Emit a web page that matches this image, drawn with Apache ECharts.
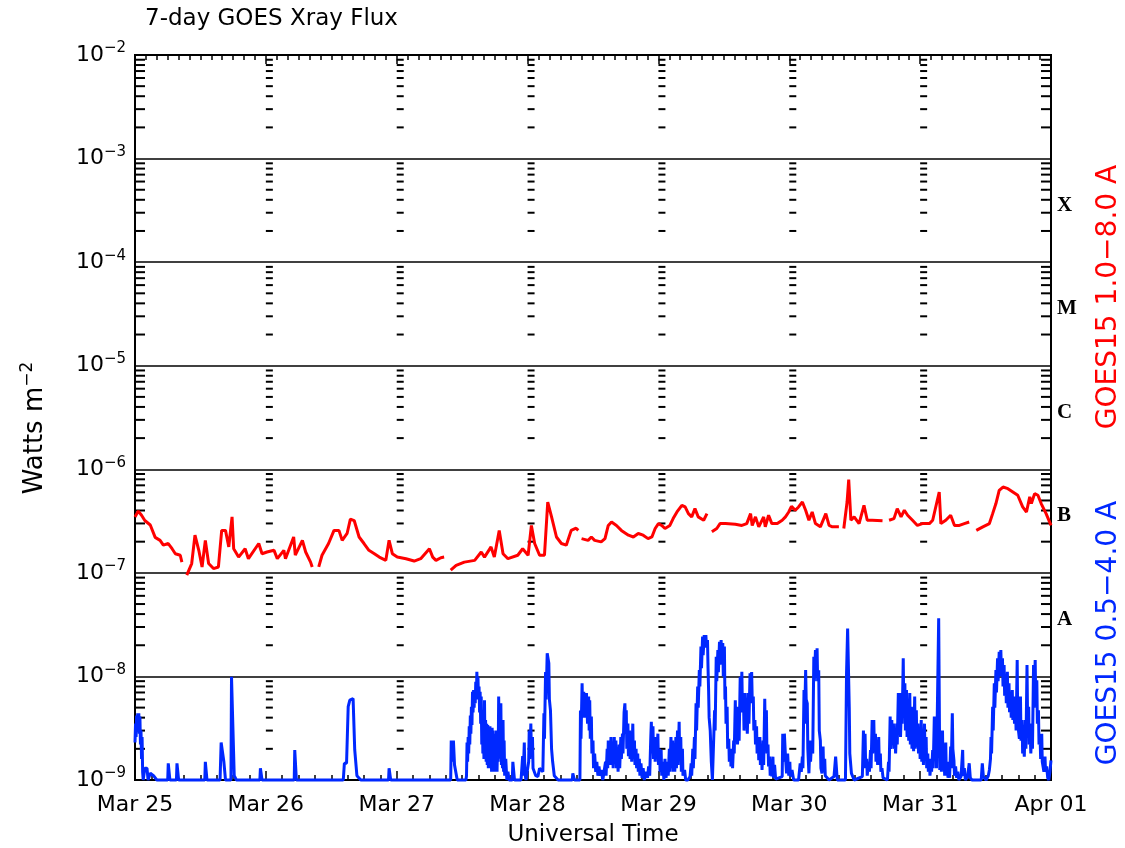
<!DOCTYPE html>
<html>
<head>
<meta charset="UTF-8">
<title>7-day GOES Xray Flux</title>
<script src="https://cdn.jsdelivr.net/npm/echarts@6/dist/echarts.min.js"></script>
<style>
  html, body { margin: 0; background: #fff; }
  #chart { width: 1125px; height: 848px; }
</style>
</head>
<body>
<div id="chart"></div>
<script>
// x = hours since Mar 25 00:00 UT, y = flux in W m^-2, null = data gap
const dayLabels = ['Mar 25', 'Mar 26', 'Mar 27', 'Mar 28', 'Mar 29', 'Mar 30', 'Mar 31', 'Apr 01'];

// GOES15 1.0-8.0 A
const longFlux = [
  [0, 3.47e-7], [0.6, 3.95e-7], [1.2, 3.6e-7], [1.8, 3.2e-7], [2.8, 2.9e-7], [3.7, 2.2e-7], [4.6, 2.06e-7], [5.2, 1.85e-7],
  [6.1, 1.92e-7], [6.8, 1.71e-7], [7.4, 1.53e-7], [8.3, 1.48e-7], [8.6, 1.27e-7], [9.0, null],
  [9.5, 9.5e-8], [10.4, 1.23e-7], [11.0, 2.31e-7], [11.7, 1.65e-7], [12.3, 1.14e-7], [12.9, 2.06e-7], [13.5, 1.23e-7],
  [14.4, 1.1e-7], [15.3, 1.14e-7], [15.9, 2.57e-7], [16.6, 2.57e-7], [17.2, 1.78e-7], [17.8, 3.47e-7], [18.1, 1.71e-7],
  [19.0, 1.42e-7], [20.2, 1.71e-7], [20.8, 1.37e-7], [22.7, 1.92e-7], [23.3, 1.53e-7], [24.2, 1.59e-7], [25.5, 1.65e-7],
  [26.1, 1.37e-7], [27.3, 1.65e-7], [27.6, 1.37e-7], [29.1, 2.22e-7], [29.4, 1.48e-7], [30.7, 2.06e-7], [31.3, 1.59e-7],
  [32.2, 1.27e-7], [32.5, 1.14e-7], [33.1, null],
  [33.7, 1.14e-7], [34.3, 1.48e-7], [35.5, 1.92e-7], [36.5, 2.57e-7], [37.4, 2.57e-7], [38.0, 2.06e-7], [38.9, 2.4e-7],
  [39.5, 3.3e-7], [40.2, 3.2e-7], [41.1, 2.22e-7], [42.0, 1.92e-7], [42.9, 1.65e-7], [43.9, 1.53e-7], [44.8, 1.42e-7],
  [46.0, 1.32e-7], [46.6, 2.06e-7], [47.2, 1.53e-7], [48.1, 1.42e-7], [49.7, 1.37e-7], [51.2, 1.3e-7], [52.4, 1.37e-7],
  [54.0, 1.71e-7], [54.6, 1.42e-7], [55.2, 1.32e-7], [56.1, 1.4e-7], [56.7, 1.42e-7], [57.3, null],
  [57.9, 1.06e-7], [58.9, 1.18e-7], [60.4, 1.27e-7], [62.3, 1.32e-7], [63.5, 1.59e-7], [64.1, 1.42e-7], [65.3, 1.78e-7],
  [65.9, 1.42e-7], [66.8, 2.57e-7], [67.5, 1.53e-7], [68.4, 1.37e-7], [70.2, 1.48e-7], [71.1, 1.71e-7], [72.1, 1.48e-7],
  [72.7, 2.87e-7], [73.3, 1.92e-7], [74.2, 1.48e-7], [75.1, 1.48e-7], [75.7, 4.83e-7], [76.4, 3.47e-7], [77.3, 2.22e-7],
  [78.2, 1.92e-7], [79.1, 1.85e-7], [80.0, 2.57e-7], [80.9, 2.7e-7], [81.3, 2.57e-7], [81.6, null],
  [81.9, 2.14e-7], [83.1, 2.06e-7], [83.7, 2.22e-7], [84.3, 2.06e-7], [85.5, 1.99e-7], [86.2, 2.14e-7], [86.8, 2.87e-7],
  [87.4, 3.1e-7], [88.3, 2.87e-7], [89.2, 2.57e-7], [90.5, 2.31e-7], [91.4, 2.22e-7], [92.3, 2.4e-7], [93.2, 2.31e-7],
  [94.1, 2.14e-7], [94.8, 2.22e-7], [95.4, 2.68e-7], [96.0, 2.99e-7], [96.6, 2.87e-7], [97.2, 2.68e-7], [98.1, 2.87e-7],
  [98.7, 3.34e-7], [99.4, 3.87e-7], [100.3, 4.49e-7], [100.9, 4.33e-7], [101.5, 3.73e-7], [102.1, 3.47e-7], [102.7, 4.17e-7],
  [103.3, 3.47e-7], [104.3, 3.22e-7], [104.9, 3.73e-7], [105.3, null],
  [105.8, 2.49e-7], [106.7, 2.68e-7], [107.3, 2.99e-7], [108.3, 2.99e-7], [110.1, 2.95e-7], [111.3, 2.87e-7], [112.2, 2.99e-7],
  [112.9, 3.73e-7], [113.2, 2.87e-7], [113.8, 3.47e-7], [114.4, 2.78e-7], [115.3, 3.47e-7], [115.6, 2.78e-7], [116.2, 3.6e-7],
  [116.8, 2.99e-7], [117.8, 2.99e-7], [118.7, 3.22e-7], [119.3, 3.47e-7], [119.9, 3.87e-7], [120.4, 4.39e-7], [121.1, 4.02e-7],
  [121.7, 4.33e-7], [122.4, 4.83e-7], [123.0, 4.02e-7], [123.6, 3.22e-7], [124.2, 3.87e-7], [124.8, 2.99e-7], [125.7, 2.78e-7],
  [126.7, 3.73e-7], [127.3, 2.87e-7], [127.9, 2.78e-7], [129.1, 2.78e-7], [129.5, null],
  [130.0, 2.68e-7], [130.6, 4.83e-7], [130.9, 7.95e-7], [131.3, 3.22e-7], [131.9, 3.47e-7], [132.8, 2.99e-7], [133.7, 4.49e-7],
  [134.3, 3.22e-7], [135.2, 3.22e-7], [137.1, 3.18e-7], [137.7, null],
  [138.3, 3.22e-7], [139.2, 3.34e-7], [139.8, 4.17e-7], [140.5, 3.47e-7], [141.1, 4.02e-7], [141.7, 3.6e-7], [142.6, 3.22e-7],
  [143.5, 2.87e-7], [144.4, 2.99e-7], [145.7, 2.99e-7], [146.3, 3.22e-7], [147.5, 6.04e-7], [147.8, 2.99e-7], [148.7, 3.22e-7],
  [149.6, 3.6e-7], [150.3, 2.87e-7], [151.2, 2.87e-7], [152.1, 2.99e-7], [153.0, 3.1e-7], [153.6, null],
  [154.3, 2.57e-7], [155.5, 2.78e-7], [156.7, 2.99e-7], [157.3, 3.73e-7], [157.9, 4.67e-7], [158.5, 6.26e-7], [159.2, 6.74e-7],
  [160.1, 6.5e-7], [161.0, 6.04e-7], [161.9, 5.61e-7], [162.8, 4.33e-7], [163.5, 3.87e-7], [164.1, 5.41e-7], [164.4, 4.67e-7],
  [165.0, 5.82e-7], [165.6, 5.61e-7], [166.2, 4.67e-7], [167.1, 3.73e-7], [168.0, 2.87e-7]
];

// GOES15 0.5-4.0 A (1e-9 = sits on the bottom axis)
const shortFlux = [
  [0, 2.3e-9], [0.1, 3.5e-9], [0.2, 2.6e-9], [0.3, 4.2e-9], [0.4, 3.0e-9], [0.5, 4.4e-9], [0.6, 3.2e-9], [0.7, 4.4e-9],
  [0.8, 2.8e-9], [0.9, 4.1e-9], [1.0, 2.2e-9], [1.1, 3.0e-9], [1.2, 1.6e-9], [1.3, 2.6e-9], [1.4, 1.2e-9], [1.5, 1e-9],
  [1.8, 1.3e-9], [2.2, 1.3e-9], [2.4, 1e-9], [2.8, 1.16e-9], [3.4, 1.1e-9], [4.0, 1e-9], [6.0, 1e-9], [6.1, 1.45e-9],
  [6.4, 1e-9], [7.6, 1e-9], [7.7, 1.45e-9], [8.0, 1e-9], [12.8, 1e-9], [12.9, 1.5e-9], [13.2, 1e-9], [15.6, 1e-9],
  [15.8, 2.3e-9], [16.1, 2.3e-9], [16.3, 1.5e-9], [16.6, 1e-9], [17.6, 1e-9], [17.7, 9.9e-9], [18.0, 9.9e-9], [18.2, 1.1e-9],
  [18.6, 1e-9], [22.9, 1e-9], [23.0, 1.3e-9], [23.3, 1e-9], [29.2, 1e-9], [29.3, 1.95e-9], [29.6, 1e-9], [38.2, 1e-9],
  [38.4, 1.45e-9], [38.8, 1.45e-9], [39.1, 5.1e-9], [39.4, 5.9e-9], [40.0, 6.1e-9], [40.3, 1.95e-9], [40.7, 1.1e-9],
  [41.4, 1e-9], [46.5, 1e-9], [46.6, 1.3e-9], [46.9, 1e-9],
  [57.9, 1e-9], [58.0, 2.4e-9], [58.2, 1.5e-9], [58.4, 2.4e-9], [58.6, 1.4e-9], [58.9, 1.35e-9], [59.1, 1e-9], [60.7, 1e-9],
  [60.8, 1.1e-9], [60.9, 2.3e-9], [61.0, 1.5e-9], [61.1, 2.6e-9], [61.2, 1.8e-9], [61.3, 3.3e-9], [61.4, 2.2e-9], [61.5, 4.2e-9],
  [61.6, 2.8e-9], [61.7, 5.1e-9], [61.8, 3.4e-9], [61.9, 7.1e-9], [62.0, 4.5e-9], [62.1, 7.4e-9], [62.2, 5.0e-9], [62.3, 7.4e-9],
  [62.4, 5.5e-9], [62.5, 8.9e-9], [62.6, 6.0e-9], [62.7, 1.11e-8], [62.8, 7.0e-9], [62.9, 9.9e-9], [63.0, 6.0e-9], [63.1, 8.0e-9],
  [63.2, 4.5e-9], [63.3, 7.1e-9], [63.4, 3.5e-9], [63.5, 6.4e-9], [63.6, 2.2e-9], [63.7, 4.7e-9], [63.8, 1.8e-9], [63.9, 4.1e-9],
  [64.0, 1.6e-9], [64.1, 5.9e-9], [64.2, 1.8e-9], [64.3, 3.8e-9], [64.4, 1.5e-9], [64.5, 3.5e-9], [64.6, 1.4e-9], [64.7, 3.4e-9],
  [64.8, 1.3e-9], [64.9, 3.3e-9], [65.0, 1.3e-9], [65.1, 3.3e-9], [65.2, 1.4e-9], [65.3, 3.0e-9], [65.4, 1.2e-9], [65.5, 3.2e-9],
  [65.6, 1.3e-9], [65.7, 3.0e-9], [65.8, 1.2e-9], [65.9, 2.8e-9], [66.0, 1.2e-9], [66.1, 2.6e-9], [66.2, 1.3e-9], [66.3, 3.0e-9],
  [66.4, 1.2e-9], [66.5, 2.4e-9], [66.6, 1.5e-9], [66.7, 6.4e-9], [66.8, 2.2e-9], [66.9, 5.5e-9], [67.0, 1.6e-9], [67.1, 5.5e-9],
  [67.2, 1.4e-9], [67.3, 3.5e-9], [67.4, 1.3e-9], [67.5, 3.8e-9], [67.6, 1.2e-9], [67.7, 2.4e-9], [67.8, 1.1e-9], [68.0, 1.6e-9],
  [68.2, 1e-9], [68.4, 1.2e-9], [68.6, 1e-9], [69.2, 1e-9], [69.3, 1.5e-9], [69.4, 1.5e-9], [69.6, 1e-9],
  [70.8, 1e-9], [71.1, 1.7e-9], [71.2, 1.1e-9], [71.4, 2.3e-9], [71.5, 1.2e-9], [71.7, 1e-9], [72.2, 1.5e-9], [72.3, 3.0e-9],
  [72.4, 1.6e-9], [72.6, 3.5e-9], [72.7, 1.8e-9], [72.9, 2.6e-9], [73.0, 1.3e-9], [73.2, 1.25e-9], [73.5, 1.1e-9],
  [73.9, 1.08e-9], [74.2, 1.3e-9], [74.5, 1.35e-9], [74.8, 1.2e-9], [75.0, 4.4e-9], [75.1, 2.5e-9], [75.3, 1.1e-8],
  [75.4, 6e-9], [75.6, 1.67e-8], [75.75, 1.6e-8], [75.9, 1.34e-8], [76.0, 6e-9], [76.2, 4.7e-9], [76.4, 2.0e-9],
  [76.6, 1.5e-9], [76.9, 1.1e-9], [77.2, 1.08e-9], [77.6, 1e-9], [80.2, 1e-9], [80.3, 1.16e-9], [80.6, 1e-9], [81.6, 1e-9],
  [81.7, 4.7e-9], [81.8, 2.5e-9], [82.0, 8.6e-9], [82.1, 4.5e-9], [82.3, 7.1e-9], [82.4, 4.0e-9], [82.6, 6.9e-9], [82.7, 4.0e-9],
  [82.8, 6.9e-9], [83.0, 3.5e-9], [83.2, 6.4e-9], [83.3, 3.0e-9], [83.4, 5.9e-9], [83.5, 2.5e-9], [83.7, 4.1e-9], [83.8, 1.8e-9],
  [84.0, 2.4e-9], [84.1, 1.3e-9], [84.3, 1.8e-9], [84.5, 1.2e-9], [84.7, 1.5e-9], [84.9, 1.1e-9], [85.1, 1.35e-9], [85.3, 1.1e-9],
  [85.5, 1.25e-9], [85.8, 1e-9], [86.1, 1e-9],
  [86.3, 1.5e-9], [86.4, 1.1e-9], [86.6, 2.0e-9], [86.7, 1.3e-9], [86.8, 2.4e-9], [86.9, 1.4e-9], [87.0, 2.4e-9], [87.1, 1.5e-9],
  [87.3, 2.6e-9], [87.4, 1.4e-9], [87.6, 2.0e-9], [87.7, 1.3e-9], [87.9, 2.6e-9], [88.0, 1.5e-9], [88.2, 2.4e-9], [88.3, 1.3e-9],
  [88.5, 1.95e-9], [88.6, 1.2e-9], [88.8, 2.2e-9], [88.9, 1.3e-9], [89.1, 2.6e-9], [89.2, 1.6e-9], [89.4, 2.8e-9], [89.5, 1.8e-9],
  [89.7, 4.5e-9], [89.85, 5.5e-9], [90.0, 2.8e-9], [90.1, 4.7e-9], [90.2, 2.0e-9], [90.4, 3.5e-9], [90.5, 1.7e-9], [90.7, 3.0e-9],
  [90.8, 1.6e-9], [91.0, 2.6e-9], [91.1, 1.5e-9], [91.3, 3.5e-9], [91.4, 1.6e-9], [91.6, 2.4e-9], [91.7, 1.4e-9], [91.9, 2.0e-9],
  [92.0, 1.3e-9], [92.2, 1.8e-9], [92.3, 1.2e-9], [92.5, 1.6e-9], [92.6, 1.1e-9], [92.8, 1.45e-9], [93.0, 1.05e-9], [93.2, 1.3e-9],
  [93.4, 1e-9], [93.7, 1.2e-9], [94.0, 1.05e-9], [94.2, 1.35e-9], [94.4, 1.1e-9], [94.6, 2.6e-9], [94.7, 3.65e-9], [94.8, 1.8e-9],
  [95.0, 3.3e-9], [95.1, 1.6e-9], [95.3, 2.6e-9], [95.4, 1.5e-9], [95.6, 2.6e-9], [95.7, 1.6e-9], [95.9, 2.8e-9], [96.0, 1.4e-9],
  [96.2, 2.0e-9], [96.3, 1.2e-9], [96.5, 1.95e-9], [96.6, 1.1e-9], [96.8, 1.5e-9], [97.0, 1e-9], [97.2, 1.6e-9], [97.4, 1.05e-9],
  [97.6, 1.5e-9], [97.8, 1.1e-9], [98.0, 2.0e-9], [98.1, 1.2e-9], [98.3, 2.6e-9], [98.4, 1.3e-9], [98.6, 2.4e-9], [98.7, 1.2e-9],
  [98.9, 1.95e-9], [99.0, 1.2e-9], [99.2, 2.6e-9], [99.3, 1.3e-9], [99.5, 3.0e-9], [99.6, 1.4e-9], [99.8, 3.65e-9], [99.9, 1.6e-9],
  [100.1, 2.6e-9], [100.2, 1.2e-9], [100.4, 2.0e-9], [100.5, 1.1e-9], [100.8, 1.25e-9], [101.0, 1e-9], [101.4, 1e-9],
  [101.8, 1.08e-9], [102.0, 1.45e-9], [102.1, 1.1e-9], [102.3, 2.0e-9], [102.4, 1.3e-9], [102.6, 2.6e-9], [102.7, 1.6e-9],
  [102.9, 5.5e-9], [103.0, 3.0e-9], [103.2, 8.0e-9], [103.3, 5.0e-9], [103.5, 1.15e-8], [103.6, 8.0e-9], [103.8, 1.94e-8],
  [103.9, 1.2e-8], [104.1, 2.42e-8], [104.2, 1.6e-8], [104.4, 2.51e-8], [104.5, 1.9e-8], [104.7, 2.51e-8], [104.8, 2.0e-8],
  [105.0, 2.25e-8], [105.1, 1.2e-8], [105.2, 7.4e-9], [105.3, 4e-9], [105.5, 3.0e-9], [105.7, 1.5e-9], [105.9, 1e-9],
  [106.2, 1e-9], [106.3, 4.7e-9], [106.4, 3e-9], [106.6, 1.55e-8], [106.7, 9e-9], [106.9, 1.8e-8], [107.0, 1.1e-8],
  [107.2, 2.16e-8], [107.3, 1.3e-8], [107.5, 2.25e-8], [107.6, 1.4e-8], [107.8, 2.1e-8], [107.9, 1.0e-8], [108.1, 1.94e-8],
  [108.2, 6.0e-9], [108.3, 8.0e-9], [108.4, 3.5e-9], [108.6, 5.1e-9], [108.7, 2.0e-9], [108.9, 2.5e-9], [109.0, 1.5e-9],
  [109.2, 2.0e-9], [109.3, 1.35e-9], [109.5, 1.8e-9], [109.6, 1.3e-9], [109.8, 2.4e-9], [109.9, 1.8e-9], [110.1, 5.9e-9],
  [110.2, 2.5e-9], [110.4, 5.1e-9], [110.5, 2.2e-9], [110.7, 3.5e-9], [110.8, 2.4e-9], [111.0, 9.9e-9], [111.1, 4.5e-9],
  [111.3, 1.11e-8], [111.4, 5.0e-9], [111.6, 6.4e-9], [111.7, 3.0e-9], [111.9, 6.9e-9], [112.0, 3.5e-9], [112.2, 4.1e-9],
  [112.3, 2.8e-9], [112.5, 6.9e-9], [112.6, 3.5e-9], [112.8, 1.07e-8], [112.9, 5.5e-9], [113.1, 1.1e-8], [113.2, 6e-9],
  [113.4, 6.4e-9], [113.5, 3.0e-9], [113.7, 3.8e-9], [113.8, 2.2e-9], [114.0, 3.3e-9], [114.1, 1.8e-9], [114.3, 2.6e-9],
  [114.4, 1.55e-9], [114.6, 2.6e-9], [114.7, 1.4e-9], [114.9, 2.0e-9], [115.0, 1.25e-9], [115.2, 2.4e-9], [115.3, 1.4e-9],
  [115.5, 6.1e-9], [115.6, 2.5e-9], [115.8, 4.7e-9], [115.9, 1.8e-9], [116.1, 2.2e-9], [116.2, 1.35e-9], [116.4, 1.68e-9],
  [116.5, 1.1e-9], [116.7, 1.5e-9], [116.8, 1.08e-9], [117.0, 1.68e-9], [117.1, 1.05e-9], [117.3, 1.4e-9], [117.5, 1.02e-9],
  [117.8, 1e-9], [118.7, 1.08e-9], [118.8, 2.8e-9], [119.0, 1.5e-9], [119.1, 2.8e-9], [119.3, 1.68e-9], [119.5, 1.16e-9],
  [119.7, 1.8e-9], [119.9, 1.1e-9], [120.1, 1.5e-9], [120.2, 1.08e-9], [120.5, 1.25e-9], [120.8, 1e-9], [121.7, 1e-9],
  [122.0, 1.45e-9], [122.2, 1.2e-9], [122.4, 1.68e-9], [122.5, 1.3e-9], [122.7, 7.4e-9], [122.8, 3.5e-9], [123.0, 1.15e-8],
  [123.1, 6e-9], [123.3, 5.5e-9], [123.4, 2.0e-9], [123.6, 1.16e-9], [123.8, 2.4e-9], [123.9, 1.5e-9], [124.1, 2.4e-9],
  [124.3, 1.8e-9], [124.5, 1.55e-8], [124.6, 9e-9], [124.8, 1.8e-8], [124.9, 1.0e-8], [125.1, 1.87e-8], [125.2, 9e-9],
  [125.4, 1.15e-8], [125.5, 3e-9], [125.7, 2.4e-9], [125.8, 1.3e-9], [126.0, 1.16e-9], [126.2, 2.1e-9], [126.3, 1.2e-9],
  [126.5, 1.6e-9], [126.6, 1.1e-9], [126.9, 1.08e-9], [127.3, 1e-9], [128.2, 1.08e-9], [128.5, 1.68e-9], [128.8, 1e-9],
  [130.3, 1e-9], [130.5, 1.07e-8], [130.7, 2.9e-8], [130.9, 2.92e-8], [131.0, 5e-9], [131.1, 1.8e-9], [131.4, 1.16e-9],
  [131.9, 1e-9], [133.4, 1.08e-9], [133.6, 3.0e-9], [133.7, 1.3e-9], [133.9, 2.8e-9], [134.0, 1.4e-9], [134.2, 1.6e-9],
  [134.3, 1.1e-9], [134.5, 1.5e-9], [134.7, 1.2e-9], [134.9, 1.95e-9], [135.0, 1.3e-9], [135.2, 3.8e-9], [135.3, 1.8e-9],
  [135.5, 3.8e-9], [135.6, 2.0e-9], [135.8, 2.8e-9], [135.9, 1.5e-9], [136.1, 2.2e-9], [136.2, 1.4e-9], [136.4, 2.6e-9],
  [136.5, 1.5e-9], [136.7, 1.8e-9], [136.8, 1.2e-9], [137.0, 1.3e-9], [137.2, 1.05e-9], [138.0, 1e-9],
  [138.2, 1.5e-9], [138.3, 1.2e-9], [138.5, 4.1e-9], [138.6, 2.0e-9], [138.8, 3.8e-9], [138.9, 2.2e-9], [139.1, 3.5e-9],
  [139.2, 2.0e-9], [139.4, 2.6e-9], [139.5, 1.8e-9], [139.7, 3.5e-9], [139.8, 2.2e-9], [140.0, 6.9e-9], [140.1, 3.0e-9],
  [140.3, 6.9e-9], [140.4, 2.6e-9], [140.6, 6.0e-9], [140.7, 3.5e-9], [140.9, 1.5e-8], [141.0, 5.0e-9], [141.2, 8.6e-9],
  [141.3, 3.0e-9], [141.5, 7.4e-9], [141.6, 2.6e-9], [141.8, 6.1e-9], [141.9, 2.4e-9], [142.1, 6.9e-9], [142.2, 2.2e-9],
  [142.4, 5.1e-9], [142.5, 2.0e-9], [142.7, 4.0e-9], [142.8, 1.9e-9], [143.0, 6.4e-9], [143.1, 2.0e-9], [143.3, 4.7e-9],
  [143.4, 2.1e-9], [143.6, 3.5e-9], [143.7, 1.8e-9], [143.9, 2.6e-9], [144.0, 1.6e-9], [144.2, 3.8e-9], [144.3, 1.5e-9],
  [144.5, 2.6e-9], [144.6, 1.4e-9], [144.8, 3.5e-9], [144.9, 1.6e-9], [145.1, 2.6e-9], [145.2, 1.3e-9], [145.4, 1.8e-9],
  [145.5, 1.2e-9], [145.7, 1.6e-9], [145.8, 1.1e-9], [146.0, 1.5e-9], [146.1, 1.2e-9], [146.3, 1.95e-9], [146.4, 1.3e-9],
  [146.6, 4.1e-9], [146.7, 1.8e-9], [146.9, 3.3e-9], [147.0, 1.3e-9], [147.2, 1.25e-9], [147.4, 3.64e-8], [147.5, 3.64e-8],
  [147.6, 1.25e-9], [147.8, 2.0e-9], [147.9, 1.2e-9], [148.1, 3.0e-9], [148.2, 1.3e-9], [148.4, 1.6e-9], [148.5, 1.1e-9],
  [148.7, 2.3e-9], [148.8, 1.1e-9], [149.0, 1.5e-9], [149.1, 1.05e-9], [149.3, 1.3e-9], [149.4, 1.05e-9], [149.6, 2.1e-9],
  [149.7, 1.3e-9], [149.9, 4.4e-9], [150.0, 2.0e-9], [150.2, 1.55e-9], [150.3, 1.1e-9], [150.5, 1.35e-9], [150.7, 1.05e-9],
  [150.9, 1.2e-9], [151.1, 1e-9], [151.5, 1.08e-9], [151.8, 1.95e-9], [151.9, 1.1e-9], [152.1, 1.3e-9], [152.3, 1e-9],
  [152.7, 1.08e-9], [153.0, 1.45e-9], [153.2, 1.05e-9], [153.5, 1e-9], [155.2, 1e-9], [155.4, 1.45e-9], [155.6, 1.08e-9],
  [156.1, 1e-9], [156.5, 1.1e-9], [156.7, 1.25e-9], [156.9, 1.6e-9], [157.0, 2.6e-9], [157.1, 1.8e-9], [157.3, 5.1e-9],
  [157.4, 3.0e-9], [157.6, 8.6e-9], [157.7, 5.0e-9], [157.9, 1.15e-8], [158.0, 7.0e-9], [158.2, 1.5e-8], [158.3, 9.0e-9],
  [158.5, 1.73e-8], [158.6, 1.0e-8], [158.8, 1.8e-8], [158.9, 1.1e-8], [159.1, 1.5e-8], [159.2, 8.0e-9], [159.4, 1.29e-8],
  [159.5, 6.5e-9], [159.7, 9.9e-9], [159.8, 5.5e-9], [160.0, 1.11e-8], [160.1, 5.0e-9], [160.3, 8.6e-9], [160.4, 4.5e-9],
  [160.6, 6.9e-9], [160.7, 4.0e-9], [160.9, 7.4e-9], [161.0, 3.8e-9], [161.2, 6.4e-9], [161.3, 3.5e-9], [161.5, 4.7e-9],
  [161.6, 3.0e-9], [161.8, 1.44e-8], [161.9, 3.5e-9], [162.1, 3.5e-9], [162.2, 2.5e-9], [162.4, 6.4e-9], [162.5, 2.4e-9],
  [162.7, 3.8e-9], [162.8, 1.8e-9], [163.0, 2.2e-9], [163.1, 1.68e-9], [163.3, 3.8e-9], [163.4, 2.0e-9], [163.6, 1.29e-8],
  [163.7, 4.0e-9], [163.9, 5.1e-9], [164.0, 2.2e-9], [164.2, 2.6e-9], [164.3, 1.8e-9], [164.5, 3.5e-9], [164.6, 2.0e-9],
  [164.8, 1.29e-8], [164.9, 5.0e-9], [165.1, 1.44e-8], [165.2, 6.0e-9], [165.4, 9.2e-9], [165.5, 3.5e-9], [165.7, 4.7e-9],
  [165.8, 2.2e-9], [166.0, 2.6e-9], [166.1, 1.6e-9], [166.3, 2.8e-9], [166.4, 1.5e-9], [166.6, 1.45e-9], [166.7, 1.2e-9],
  [166.9, 1.68e-9], [167.0, 1.2e-9], [167.2, 1.35e-9], [167.4, 1.05e-9], [167.6, 1e-9], [167.8, 1.2e-9], [168.0, 1.55e-9]
];

// flare classes on the right edge, placed by log10 flux
const classLabels = ['A', 'B', 'C', 'M', 'X'];
const classLevels = [-7.45, -6.45, -5.45, -4.45, -3.45];

const hoursPerDay = 24;
const totalHours = hoursPerDay * (dayLabels.length - 1);

// log minor ticks (2..9 x 10^n) repeated on the left edge, each day line and the right edge
const minorTicks = [];
for (let e = -9; e < -2; e++) {
  for (let k = 2; k <= 9; k++) {
    for (let d = 0; d < dayLabels.length; d++) {
      minorTicks.push([d * hoursPerDay, k * Math.pow(10, e)]);
    }
  }
}

const chart = echarts.init(document.getElementById('chart'));
const font = 'DejaVu Sans';

chart.setOption({
  animation: false,
  backgroundColor: '#fff',
  textStyle: { fontFamily: font, color: '#000' },
  grid: { left: 135, right: 74, top: 55, bottom: 68, show: true, borderColor: '#000', borderWidth: 2 },
  graphic: [
    { type: 'text', left: 145, top: 8, style: { text: '7-day GOES Xray Flux', font: '23px ' + font, fill: '#000' } },
    { type: 'text', x: 593, y: 835, style: { text: 'Universal Time', font: '23px ' + font, fill: '#000', align: 'center', verticalAlign: 'middle' } },
    {
      type: 'text', x: 35, y: 428, rotation: Math.PI / 2,
      style: {
        text: 'Watts m{s|−2}', font: '26px ' + font, fill: '#000', align: 'center', verticalAlign: 'middle',
        rich: { s: { fontSize: 17, fontFamily: font, padding: [0, 0, 14, 0] } }
      }
    },
    { type: 'text', x: 1109, y: 297, rotation: Math.PI / 2, style: { text: 'GOES15 1.0−8.0 A', font: '28px ' + font, fill: '#ff0000', align: 'center', verticalAlign: 'middle' } },
    { type: 'text', x: 1109, y: 633, rotation: Math.PI / 2, style: { text: 'GOES15 0.5−4.0 A', font: '28px ' + font, fill: '#0028ff', align: 'center', verticalAlign: 'middle' } }
  ],
  xAxis: [
    {
      type: 'value', min: 0, max: totalHours, interval: hoursPerDay,
      axisLine: { show: false },
      axisTick: { inside: true, length: 9, lineStyle: { color: '#000', width: 1.5 } },
      minorTick: { show: true, splitNumber: 8, length: 5, lineStyle: { color: '#000', width: 1.5 } },
      splitLine: { show: false },
      axisLabel: {
        margin: 14, fontSize: 22, color: '#000',
        formatter: v => dayLabels[Math.round(v / hoursPerDay)]
      }
    },
    {
      type: 'value', position: 'top', min: 0, max: totalHours, interval: hoursPerDay,
      axisLine: { show: false },
      axisTick: { inside: true, length: 9, lineStyle: { color: '#000', width: 1.5 } },
      minorTick: { show: true, splitNumber: 12, length: 5, lineStyle: { color: '#000', width: 1.5 } },
      splitLine: { show: false },
      axisLabel: { show: false }
    }
  ],
  yAxis: [
    {
      type: 'log', logBase: 10, min: 1e-9, max: 1e-2,
      axisLine: { show: false },
      axisTick: { show: false },
      splitLine: { show: true, lineStyle: { color: '#000', width: 1.5 } },
      axisLabel: {
        margin: 9, color: '#000',
        formatter: v => '{b|10}{s|−' + Math.abs(Math.round(Math.log10(v))) + '}',
        rich: {
          b: { fontSize: 22, fontFamily: font, color: '#000' },
          s: { fontSize: 15, fontFamily: font, color: '#000', padding: [0, 0, 13, 0] }
        }
      }
    },
    {
      type: 'value', position: 'right', min: -9, max: -2, interval: 0.05,
      axisLine: { show: false },
      axisTick: { show: false },
      splitLine: { show: false },
      axisLabel: {
        margin: 6, color: '#000', fontFamily: 'Liberation Serif', fontWeight: 'bold', fontSize: 21,
        formatter: v => {
          const i = classLevels.findIndex(l => Math.abs(l - v) < 0.01);
          return i < 0 ? '' : classLabels[i];
        }
      }
    }
  ],
  series: [
    {
      type: 'custom',
      xAxisIndex: 0, yAxisIndex: 0,
      data: minorTicks,
      silent: true,
      z: 1,
      renderItem: (params, api) => {
        const h = api.value(0);
        const p = api.coord([h, api.value(1)]);
        let len = 7;
        if (h === 0) len = 10;
        if (h === totalHours) len = -10;
        return {
          type: 'line',
          shape: { x1: p[0], y1: p[1], x2: p[0] + len, y2: p[1] },
          style: { stroke: '#000', lineWidth: 2 }
        };
      }
    },
    {
      name: 'GOES15 0.5-4.0 A', type: 'line', data: shortFlux,
      xAxisIndex: 0, yAxisIndex: 0,
      showSymbol: false, clip: false, z: 3,
      lineStyle: { color: '#0028ff', width: 3 }
    },
    {
      name: 'GOES15 1.0-8.0 A', type: 'line', data: longFlux,
      xAxisIndex: 0, yAxisIndex: 0,
      showSymbol: false, clip: false, connectNulls: false, z: 3,
      lineStyle: { color: '#ff0000', width: 3 }
    }
  ]
});
</script>
</body>
</html>
